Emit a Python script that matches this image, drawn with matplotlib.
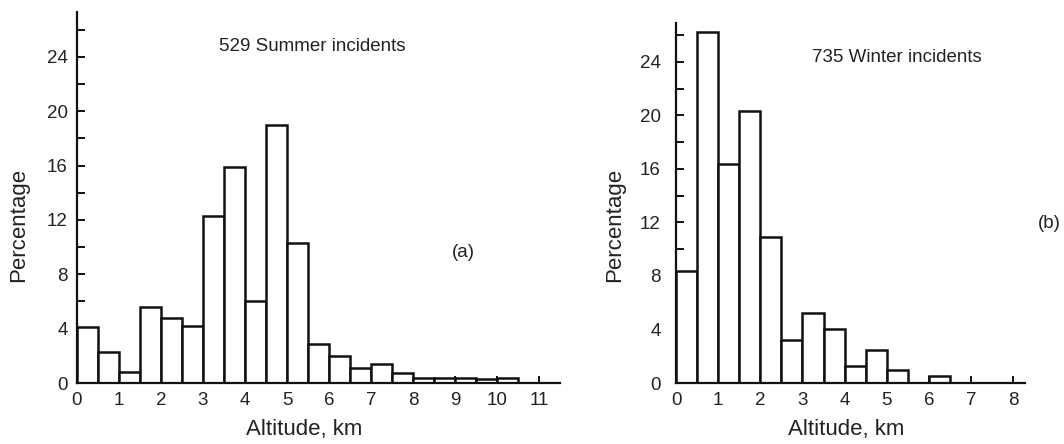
import matplotlib
matplotlib.use("Agg")
import matplotlib.pyplot as plt
import numpy as np
from matplotlib.ticker import MultipleLocator

plt.rcParams['font.family'] = ['Liberation Sans', 'DejaVu Sans']

# Altitude bins (km, left edges, 0.5 km wide) and percentage of incidents per bin
summer_bins = [0.0, 0.5, 1.0, 1.5, 2.0, 2.5, 3.0, 3.5, 4.0, 4.5, 5.0, 5.5,
               6.0, 6.5, 7.0, 7.5, 8.0, 8.5, 9.0, 9.5, 10.0, 10.5]
summer_pct = [4.1, 2.3, 0.8, 5.6, 4.8, 4.2, 12.3, 15.9, 6.0, 19.0, 10.3, 2.9,
              2.0, 1.1, 1.4, 0.7, 0.4, 0.4, 0.4, 0.3, 0.4, 0.0]

winter_bins = [0.0, 0.5, 1.0, 1.5, 2.0, 2.5, 3.0, 3.5, 4.0, 4.5, 5.0, 5.5,
               6.0, 6.5, 7.0, 7.5]
winter_pct = [8.4, 26.2, 16.4, 20.3, 10.9, 3.2, 5.2, 4.0, 1.3, 2.5, 1.0, 0.0,
              0.5, 0.0, 0.0, 0.0]

bin_width = 0.5
summer_title = "529 Summer incidents"
winter_title = "735 Winter incidents"
x_label = "Altitude, km"
y_label = "Percentage"

W, H = 1064, 444
fig = plt.figure(figsize=(W / 100, H / 100), dpi=100)

ink = "#111111"
text_col = "#222222"


def style(ax, xmax, ymax, ypad):
    for s in ("top", "right"):
        ax.spines[s].set_visible(False)
    for s in ("left", "bottom"):
        ax.spines[s].set_linewidth(1.6)
        ax.spines[s].set_color(ink)
    ax.set_xlim(0, xmax)
    ax.set_ylim(0, ymax)
    ax.xaxis.set_major_locator(MultipleLocator(1))
    ax.yaxis.set_minor_locator(MultipleLocator(2))
    ax.set_yticks(np.arange(0, 25, 4))
    ax.tick_params(axis="x", which="major", direction="in", length=5,
                   width=1.4, color=ink, labelsize=13.5, labelcolor=text_col, pad=6.5)
    ax.tick_params(axis="y", which="both", direction="in", length=5.5,
                   width=1.4, color=ink, labelsize=13.5, labelcolor=text_col, pad=ypad)


# (a) summer
ax1 = fig.add_axes([77 / W, 61 / H, 483 / W, 371 / H])
ax1.bar(summer_bins, summer_pct, width=bin_width, align="edge",
        facecolor="white", edgecolor=ink, linewidth=1.8, zorder=2)
style(ax1, 11.5, 27.3, 6.5)
ax1.set_xticks(range(0, 12))
ax1.set_xlabel(x_label, fontsize=16, color=text_col)
ax1.xaxis.set_label_coords(0.47, -0.097)
ax1.set_ylabel(y_label, fontsize=16, color=text_col)
ax1.yaxis.set_label_coords(-0.099, 0.426)
ax1.text(0.488, 0.906, summer_title, transform=ax1.transAxes,
         fontsize=13.5, color=text_col, ha="center", va="center")
ax1.text(9.2, 9.6, "(a)", fontsize=13.5, color=text_col, ha="center", va="center")

# (b) winter
ax2 = fig.add_axes([676 / W, 61 / H, 349 / W, 360 / H])
ax2.bar(winter_bins, winter_pct, width=bin_width, align="edge",
        facecolor="white", edgecolor=ink, linewidth=1.8, zorder=2)
style(ax2, 8.28, 26.9, 11)
ax2.set_xticks(range(0, 9))
ax2.set_xlabel(x_label, fontsize=16, color=text_col)
ax2.xaxis.set_label_coords(0.487, -0.1)
ax2.set_ylabel(y_label, fontsize=16, color=text_col)
ax2.yaxis.set_label_coords(-0.146, 0.439)
ax2.text(0.633, 0.903, winter_title, transform=ax2.transAxes,
         fontsize=13.5, color=text_col, ha="center", va="center")
fig.text(1038 / W, 1 - 223 / H, "(b)", fontsize=13.5, color=text_col,
         ha="left", va="center")

fig.savefig("out.png", dpi=100)
